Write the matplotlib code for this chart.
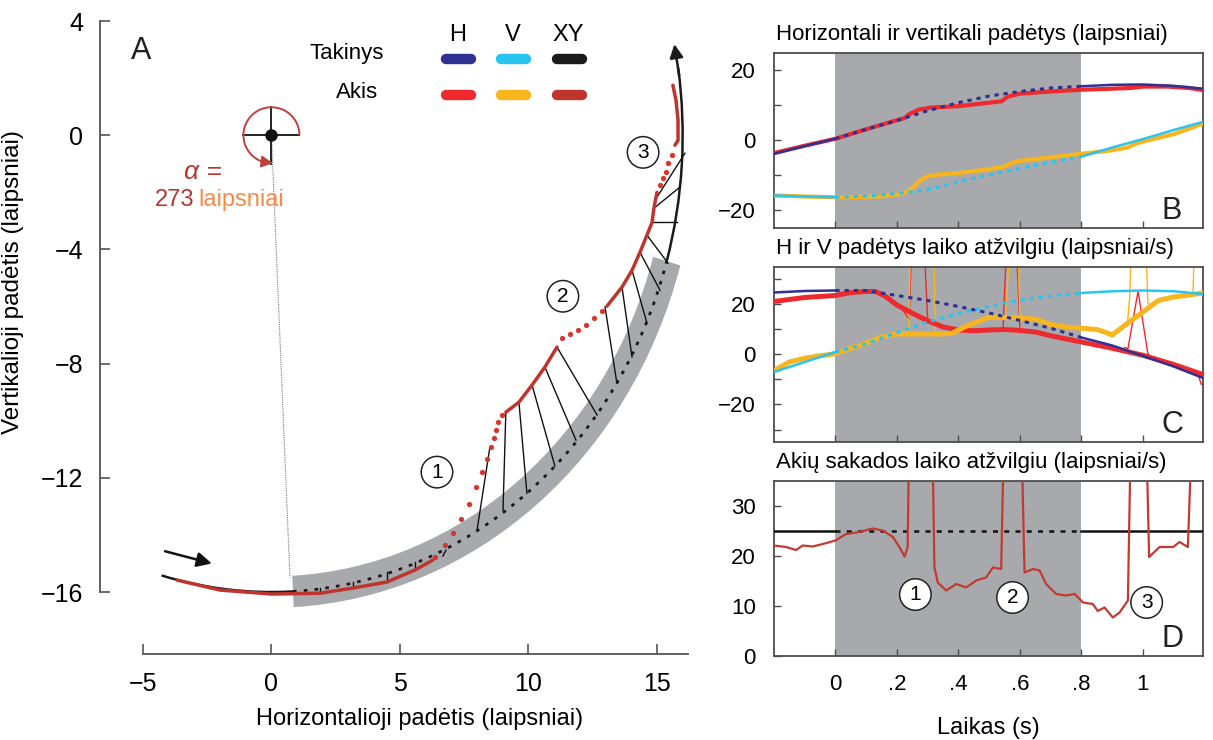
import numpy as np
import matplotlib
matplotlib.use('Agg')
import matplotlib.pyplot as plt
from matplotlib.patches import Arc, Wedge

plt.rcParams['font.family'] = ['Liberation Sans', 'DejaVu Sans']

# spalvos
TAK_H = '#2e3192'
TAK_V = '#29c4ef'
TAK_XY = '#1a1a1a'
AKIS_H = '#ee2a2f'
AKIS_V = '#f8b51e'
AKIS_XY = '#bf352d'
SHADE = '#a7a9ac'
SPINE = '#4d4d4d'

# ---------------- A: trajektorija ----------------
R_TAK = 16.0                 # taikinio apskritimo spindulys
ARC_PRIES = (254.5, 273.0)   # matomas taikinys pries uzdengima
ARC_OKL = (273.0, 344.0)     # uzdengimo metu
ARC_PO = (-16.0, 11.5)       # po uzdengimo

# akies trajektorija: sekimas (tankus) ir sakados (taskai)
sek0_x = [-3.68, -2.0, 0.0, 1.89, 3.17, 4.49, 5.58, 6.28]
sek0_y = [-15.58, -15.93, -16.07, -16.04, -15.86, -15.65, -15.23, -14.88]
sak1_x = [6.36, 6.75, 7.06, 7.37, 7.68, 7.96, 8.19, 8.39, 8.54, 8.66, 8.74, 8.81, 8.97]
sak1_y = [-14.78, -14.36, -13.94, -13.45, -12.92, -12.32, -11.80, -11.35, -10.92, -10.61, -10.33, -10.05, -9.80]
sek1_x = [9.12, 9.63, 10.14, 10.64, 11.11]
sek1_y = [-9.70, -9.35, -8.75, -8.12, -7.42]
sak2_x = [11.30, 11.61, 11.93, 12.24, 12.55, 12.86]
sak2_y = [-7.11, -6.97, -6.83, -6.65, -6.41, -6.16]
sek2_x = [13.05, 13.64, 14.03, 14.34, 14.61, 14.81, 14.88, 15.0]
sek2_y = [-5.99, -5.32, -4.73, -4.10, -3.50, -3.05, -2.56, -2.0]
sak3_x = [15.12, 15.23, 15.35, 15.43, 15.58]
sak3_y = [-1.75, -1.51, -1.30, -0.98, -0.70]
sek3_x = [15.70, 15.82, 15.82, 15.74, 15.62]
sek3_y = [-0.35, -0.18, 0.53, 1.23, 1.75]

# jungtys tarp akies ir taikinio tuo paciu metu
jung_akis_x = [1.89, 3.17, 4.49, 5.58, 6.67, 8.50, 9.12, 9.63, 10.14, 10.64, 11.11,
               12.98, 13.64, 14.03, 14.34, 14.61, 14.81, 14.88, 15.0]
jung_akis_y = [-16.04, -15.86, -15.65, -15.23, -14.74, -10.92, -9.70, -9.35, -8.75, -8.12, -7.42,
               -6.02, -5.32, -4.73, -4.10, -3.50, -3.05, -2.56, -2.17]
jung_tak_x = [1.89, 3.17, 4.49, 5.58, 6.79, 8.0, 9.01, 9.94, 11.03, 11.85, 12.67,
              13.44, 14.03, 14.61, 15.12, 15.43, 15.78, 15.89, 16.09]
jung_tak_y = [-15.86, -15.65, -15.30, -14.95, -14.53, -13.83, -13.13, -12.54, -11.59, -10.68, -9.80,
              -8.68, -7.77, -6.58, -5.43, -4.48, -3.05, -1.82, -0.63]

# ---------------- B, C, D: laiko eilutes ----------------
t_tak = [-0.2, -0.1, 0.0, 0.1, 0.2, 0.3, 0.4, 0.5, 0.6, 0.7, 0.8, 0.9, 1.0, 1.1, 1.195]
b_tak_h = [-3.8, -1.6, 0.5, 3.2, 5.7, 8.5, 10.8, 12.7, 14.0, 15.0, 15.5, 15.9, 16.0, 15.6, 14.8]
b_tak_v = [-15.7, -16.0, -16.2, -15.9, -15.2, -14.0, -11.8, -9.8, -8.0, -6.2, -4.6, -2.0, 0.4, 3.0, 5.3]

b_akis_h_t = [-0.2, -0.1, 0.0, 0.1, 0.2, 0.225, 0.24, 0.27, 0.31, 0.4, 0.5, 0.54, 0.56, 0.6,
              0.7, 0.8, 0.9, 0.96, 1.0, 1.08, 1.15, 1.195]
b_akis_h = [-3.6, -1.5, 0.5, 3.2, 5.8, 6.4, 7.5, 8.8, 9.4, 9.8, 10.8, 11.2, 12.5, 13.4,
            14.0, 14.5, 14.8, 15.0, 15.4, 15.4, 15.0, 14.4]
b_akis_v_t = [-0.2, -0.1, 0.0, 0.1, 0.15, 0.22, 0.245, 0.27, 0.3, 0.33, 0.4, 0.5, 0.55, 0.58,
              0.6, 0.7, 0.8, 0.9, 0.95, 0.98, 1.0, 1.1, 1.195]
b_akis_v = [-15.7, -16.0, -16.2, -16.1, -16.0, -15.2, -14.0, -11.8, -10.2, -9.8, -9.3, -8.2, -7.4, -6.2,
            -5.8, -4.8, -3.8, -2.8, -2.0, -0.8, -0.3, 1.8, 4.8]

c_tak_h = [24.8, 25.4, 25.6, 25.6, 23.6, 21.6, 19.2, 16.6, 13.6, 10.5, 6.8, 3.6, -0.6, -4.8, -9.4]
c_tak_v = [-7.0, -3.0, 1.0, 4.3, 8.8, 13.0, 16.4, 19.3, 21.8, 23.4, 24.6, 25.3, 25.6, 25.3, 24.2]

c_akis_h_t = [-0.2, -0.1, 0.0, 0.05, 0.1, 0.13, 0.16, 0.2, 0.25, 0.3, 0.35, 0.4, 0.45, 0.5,
              0.55, 0.6, 0.65, 0.7, 0.8, 0.9, 1.0, 1.1, 1.195]
c_akis_h = [21.2, 22.8, 23.6, 24.8, 25.2, 25.2, 23.5, 19.8, 16.5, 13.5, 11.0, 9.8, 9.5, 9.8,
            10.0, 9.6, 9.0, 7.5, 5.0, 2.5, -0.3, -4.0, -8.0]
c_akis_v_t = [-0.2, -0.15, -0.1, -0.05, 0.0, 0.05, 0.1, 0.15, 0.2, 0.25, 0.3, 0.35, 0.38, 0.42,
              0.47, 0.5, 0.55, 0.6, 0.65, 0.7, 0.75, 0.8, 0.85, 0.88, 0.9, 0.95, 1.0, 1.05,
              1.1, 1.15, 1.195]
c_akis_v = [-6.5, -3.0, -1.5, -0.5, 0.3, 2.5, 4.5, 7.0, 8.2, 8.2, 8.2, 8.2, 8.5, 11.0,
            13.5, 15.0, 14.8, 14.6, 14.2, 12.0, 11.0, 10.5, 10.0, 8.8, 7.8, 12.5, 17.0, 21.6,
            23.0, 23.8, 24.6]

# neapdoroti greiciai su sakadomis (ploni)
c_raw_h = [([0.215, 0.24, 0.252, 0.282, 0.30, 0.317], [18.5, 14, 60, 60, 14, 12.5]),
           ([0.53, 0.545, 0.562, 0.583, 0.60, 0.612], [9.9, 10.2, 60, 60, 10, 9.7]),
           ([0.94, 0.951, 0.984, 1.016, 1.03], [2.8, 2.3, 25.3, 0.3, -1.2]),
           ([1.165, 1.18, 1.19, 1.195], [-6.8, -8.5, -12, -11.5])]
c_raw_v = [([0.225, 0.238, 0.247, 0.317, 0.325, 0.335], [8.2, 9, 60, 60, 9.7, 8.2]),
           ([0.545, 0.553, 0.575, 0.59, 0.60, 0.61], [14.8, 14.5, 60, 60, 14.5, 14.6]),
           ([0.95, 0.957, 0.967, 1.005, 1.016, 1.025], [13.2, 23, 60, 60, 20.6, 19.5]),
           ([1.15, 1.163, 1.17], [23.8, 24.6, 60])]

d_tak_t = [-0.2, 0.0, 0.8, 1.195]
d_tak = [25, 25, 25, 25]
d_akis_t = [-0.2, -0.16, -0.128, -0.106, -0.074, -0.041, 0, 0.035, 0.078, 0.121, 0.154, 0.187,
            0.208, 0.225, 0.235, 0.243, 0.311, 0.322, 0.333, 0.36, 0.393, 0.425, 0.458, 0.49,
            0.512, 0.539, 0.553, 0.599, 0.615, 0.642, 0.664, 0.685, 0.718, 0.75, 0.778, 0.805,
            0.837, 0.853, 0.875, 0.902, 0.924, 0.951, 0.965, 1.005, 1.02, 1.054, 1.098, 1.119,
            1.146, 1.168, 1.195]
d_akis = [22.1, 21.8, 21.2, 22.1, 21.9, 22.4, 23.1, 24.4, 24.8, 25.5, 25.1, 23.8,
          21.8, 19.9, 21.8, 60, 60, 17.7, 14.7, 13.1, 14.4, 13.7, 15.1, 15.7,
          17.7, 17.4, 60, 60, 16.7, 17.4, 17.1, 14.4, 12.4, 12.1, 12.4, 10.7,
          10.4, 9.0, 9.7, 7.7, 8.7, 11.1, 60, 60, 19.8, 21.8, 21.8, 22.8,
          21.8, 60, 60]

d_xtick = [0, 0.2, 0.4, 0.6, 0.8, 1.0]
d_xtick_lab = ['0', '.2', '.4', '.6', '.8', '1']


def dalys(t, v):
    t = np.asarray(t)
    v = np.asarray(v)
    pries = t <= 0
    okl = (t >= 0) & (t <= 0.8)
    po = t >= 0.8
    return (t[pries], v[pries]), (t[okl], v[okl]), (t[po], v[po])


def taikinys(ax, t, v, spalva, lw=1.8):
    p, o, a = dalys(t, v)
    ax.plot(*p, color=spalva, lw=lw, zorder=4)
    ax.plot(*o, color=spalva, lw=lw + 0.4, ls=(0, (1.4, 1.6)), zorder=4)
    ax.plot(*a, color=spalva, lw=lw, zorder=4)


def apipavidalinti(ax, pavadinimas, raide):
    ax.set_xlim(-0.2, 1.195)
    ax.axvspan(0, 0.8, color=SHADE, lw=0, zorder=0)
    for s in ax.spines.values():
        s.set_color(SPINE)
        s.set_linewidth(1.3)
    ax.tick_params(direction='in', length=5, width=1, color=SPINE, labelsize=16, pad=13)
    ax.tick_params(axis='y', which='minor', direction='in', length=5, width=1, color=SPINE)
    ax.set_xticks(d_xtick)
    ax.text(0.005, 1.045, pavadinimas, transform=ax.transAxes, fontsize=16,
            ha='left', va='bottom')
    ax.text(0.928, 0.095, raide, transform=ax.transAxes, fontsize=22,
            ha='center', va='center', color='#222222')


fig = plt.figure(figsize=(12.13, 7.40), dpi=100)

# ---------------- A ----------------
ax = fig.add_axes([0.0824, 0.1162, 0.4864, 0.8554])
ax.set_xlim(-6.673, 16.284)
ax.set_ylim(-18.17, 3.99)
for k in ['top', 'right']:
    ax.spines[k].set_visible(False)
ax.spines['left'].set_bounds(-16, 4)
ax.spines['bottom'].set_bounds(-5, 16.2)
for k in ['left', 'bottom']:
    ax.spines[k].set_color('#555555')
    ax.spines[k].set_linewidth(1.3)
ax.set_xticks([-5, 0, 5, 10, 15])
ax.set_yticks([-16, -12, -8, -4, 0, 4])
ax.tick_params(direction='in', length=7, width=1.2, color='#555555', labelsize=18)
ax.tick_params(axis='x', pad=13)
ax.tick_params(axis='y', pad=12)
ax.set_xlabel('Horizontalioji padėtis (laipsniai)', fontsize=17)
ax.xaxis.set_label_coords(0.542, -0.085)
ax.set_ylabel('Vertikalioji padėtis (laipsniai)', fontsize=17.5)
ax.yaxis.set_label_coords(-0.128, 0.588)

# uzdengimo juosta ir taikinys
ax.add_patch(Wedge((0, 0), R_TAK + 0.55, ARC_OKL[0], ARC_OKL[1], width=1.1,
                   facecolor=SHADE, edgecolor='none', zorder=1))
ax.add_patch(Arc((0, 0), 2 * R_TAK, 2 * R_TAK, theta1=ARC_OKL[0], theta2=ARC_OKL[1],
                 color=TAK_XY, lw=2, ls=(0, (1.3, 2.6)), zorder=3))
ax.add_patch(Arc((0, 0), 2 * R_TAK, 2 * R_TAK, theta1=ARC_PRIES[0], theta2=ARC_PRIES[1],
                 color=TAK_XY, lw=1.8, zorder=3))
ax.add_patch(Arc((0, 0), 2 * R_TAK, 2 * R_TAK, theta1=ARC_PO[0], theta2=ARC_PO[1] - 3,
                 color=TAK_XY, lw=1.8, zorder=3))
a0 = np.deg2rad(ARC_PO[1] - 4)
a1 = np.deg2rad(ARC_PO[1])
ax.annotate('', xy=(R_TAK * np.cos(a1), R_TAK * np.sin(a1)),
            xytext=(R_TAK * np.cos(a0), R_TAK * np.sin(a0)),
            arrowprops=dict(arrowstyle='-|>', color=TAK_XY, lw=1.8,
                            mutation_scale=20, shrinkA=0, shrinkB=0), zorder=3)

# jungtys
for xa, ya, xt, yt in zip(jung_akis_x, jung_akis_y, jung_tak_x, jung_tak_y):
    ax.plot([xa, xt], [ya, yt], color='#111111', lw=1.0, zorder=2)

# akis
for xs, ys in [(sek0_x, sek0_y), (sek1_x, sek1_y), (sek2_x, sek2_y), (sek3_x, sek3_y)]:
    ax.plot(xs, ys, color=AKIS_XY, lw=2.5, zorder=5, solid_capstyle='round')
for xs, ys in [(sak1_x, sak1_y), (sak2_x, sak2_y), (sak3_x, sak3_y)]:
    ax.plot(xs, ys, 'o', color='#d8352c', ms=3.8, mew=0, zorder=5)

# pradzios rodykle
ax.annotate('', xy=(-2.32, -15.0), xytext=(-4.14, -14.57),
            arrowprops=dict(arrowstyle='-|>', color='#111111', lw=1.8,
                            mutation_scale=22, shrinkA=0, shrinkB=0))

# kampo simbolis
ax.plot([0, 0.72], [0, -15.5], color='#777777', lw=0.8, ls=(0, (1, 1)), zorder=2)
ax.plot([-1.09, 1.09], [0, 0], color='#222222', lw=1.4, zorder=6)
ax.plot([0, 0], [0.98, -1.0], color='#222222', lw=1.4, zorder=6)
ax.plot([0], [0], 'o', color='#111111', ms=8, zorder=7)
ax.add_patch(Arc((0, 0), 2.18, 1.96, theta1=0, theta2=258, color='#c0403a', lw=1.4, zorder=6))
ax.annotate('', xy=(0.06 * 1.09, -0.98), xytext=(-0.3 * 1.09, -0.95 * 0.98),
            arrowprops=dict(arrowstyle='-|>', color='#c0403a', lw=1.2,
                            mutation_scale=18, shrinkA=0, shrinkB=0), zorder=6)
ax.text(-2.67, -1.30, 'α =', fontsize=19, color='#b5362f', ha='center', va='center',
        fontstyle='italic')
ax.text(-3.0, -2.28, '273', fontsize=17, color='#b8342d', ha='right', va='center')
ax.text(-2.85, -2.28, 'laipsniai', fontsize=17, color='#f58a4a', ha='left', va='center')

# legenda
ax.text(-5.08, 2.94, 'A', fontsize=22, ha='center', va='center', color='#222222')
for x, s in [(7.26, 'H'), (9.40, 'V'), (11.54, 'XY')]:
    ax.text(x, 3.50, s, fontsize=17, ha='center', va='center')
ax.text(4.38, 2.87, 'Takinys', fontsize=16, ha='right', va='center')
ax.text(4.14, 1.51, 'Akis', fontsize=16, ha='right', va='center')
for x0, x1, c_t, c_a in [(6.79, 7.77, TAK_H, AKIS_H), (8.93, 9.91, TAK_V, AKIS_V),
                         (11.10, 12.09, TAK_XY, AKIS_XY)]:
    ax.plot([x0, x1], [2.66, 2.66], color=c_t, lw=7.5, solid_capstyle='round')
    ax.plot([x0, x1], [1.40, 1.40], color=c_a, lw=7.5, solid_capstyle='round')

burb = dict(boxstyle='circle,pad=0.3', fc='white', ec='#222222', lw=1.1)
for x, y, s in [(6.44, -11.8, '1'), (11.34, -5.64, '2'), (14.46, -0.6, '3')]:
    ax.text(x, y, s, fontsize=15, ha='center', va='center', bbox=burb, zorder=8)

# ---------------- B ----------------
axb = fig.add_axes([0.638, 0.6919, 0.3537, 0.2365])
apipavidalinti(axb, 'Horizontali ir vertikali padėtys (laipsniai)', 'B')
axb.set_ylim(-25, 25)
axb.set_yticks([-20, 0, 20])
axb.set_yticks([-10, 10], minor=True)
axb.set_xticklabels([])
axb.plot(b_akis_h_t, b_akis_h, color=AKIS_H, lw=3, zorder=3)
axb.plot(b_akis_v_t, b_akis_v, color=AKIS_V, lw=3, zorder=3)
taikinys(axb, t_tak, b_tak_h, TAK_H)
taikinys(axb, t_tak, b_tak_v, TAK_V)

# ---------------- C ----------------
axc = fig.add_axes([0.638, 0.4027, 0.3537, 0.2365])
apipavidalinti(axc, 'H ir V padėtys laiko atžvilgiu (laipsniai/s)', 'C')
axc.set_ylim(-35, 35)
axc.set_yticks([-20, 0, 20])
axc.set_yticks([-30, -10, 10, 30], minor=True)
axc.set_xticklabels([])
for ts, vs in c_raw_h:
    axc.plot(ts, vs, color=AKIS_H, lw=1.0, zorder=2)
for ts, vs in c_raw_v:
    axc.plot(ts, vs, color=AKIS_V, lw=1.0, zorder=2)
axc.plot(c_akis_h_t, c_akis_h, color=AKIS_H, lw=3.6, zorder=3)
axc.plot(c_akis_v_t, c_akis_v, color=AKIS_V, lw=3.6, zorder=3)
taikinys(axc, t_tak, c_tak_h, TAK_H)
taikinys(axc, t_tak, c_tak_v, TAK_V)

# ---------------- D ----------------
axd = fig.add_axes([0.638, 0.1135, 0.3537, 0.2365])
apipavidalinti(axd, 'Akių sakados laiko atžvilgiu (laipsniai/s)', 'D')
axd.set_ylim(0, 35)
axd.set_yticks([0, 10, 20, 30])
axd.set_xticklabels(d_xtick_lab)
axd.set_xlabel('Laikas (s)', fontsize=17, labelpad=16)
p, o, a = dalys(d_tak_t, d_tak)
axd.plot(*p, color='#111111', lw=1.8, zorder=3)
axd.plot(*o, color='#111111', lw=1.8, ls=(0, (2, 2.5)), zorder=3)
axd.plot(*a, color='#111111', lw=1.8, zorder=3)
axd.plot(d_akis_t, d_akis, color='#c23a30', lw=1.6, zorder=4)
for x, y, s in [(0.26, 12.3, '1'), (0.576, 11.7, '2'), (1.012, 10.7, '3')]:
    axd.text(x, y, s, fontsize=15, ha='center', va='center', bbox=burb, zorder=6)

fig.savefig('out.png', dpi=100)
